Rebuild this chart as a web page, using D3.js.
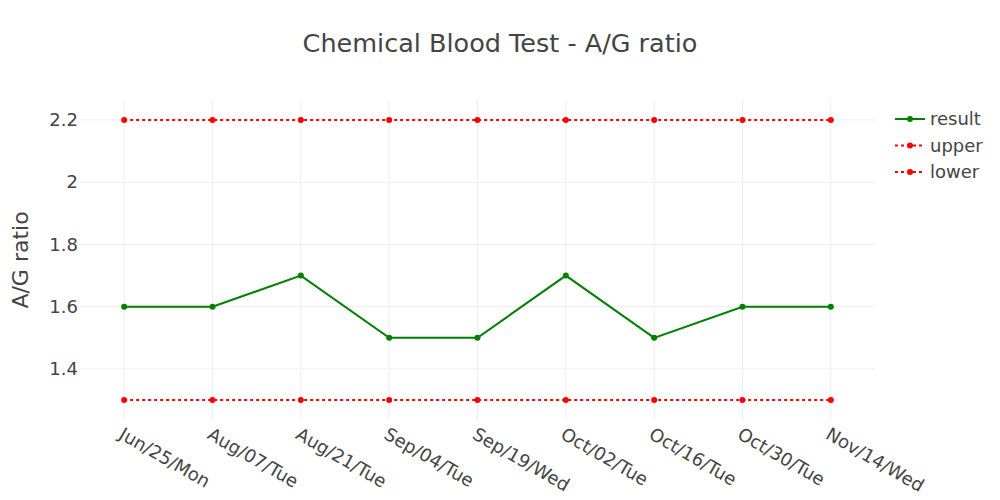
<!DOCTYPE html>
<html>
<head>
<meta charset="utf-8">
<script src="https://cdn.jsdelivr.net/npm/d3@7"></script>
<style>
  body { margin: 0; background: #fff; }
  text { font-family: "DejaVu Sans", Verdana, sans-serif; fill: #444; }
</style>
</head>
<body>
<script>
(function() {

    // Data
    var dates = ['Jun/25/Mon', 'Aug/07/Tue', 'Aug/21/Tue', 'Sep/04/Tue', 'Sep/19/Wed',
                 'Oct/02/Tue', 'Oct/16/Tue', 'Oct/30/Tue', 'Nov/14/Wed'];
    var result = [1.6, 1.6, 1.7, 1.5, 1.5, 1.7, 1.5, 1.6, 1.6];
    var upper = [2.2, 2.2, 2.2, 2.2, 2.2, 2.2, 2.2, 2.2, 2.2];
    var lower = [1.3, 1.3, 1.3, 1.3, 1.3, 1.3, 1.3, 1.3, 1.3];
    var yTicks = [1.4, 1.6, 1.8, 2, 2.2];

    var series = [
        {name: 'result', values: result, color: 'green', dash: null},
        {name: 'upper', values: upper, color: 'red', dash: '3,3'},
        {name: 'lower', values: lower, color: 'red', dash: '3,3'}
    ];

    // Dimensions
    var W = 1000, H = 500;
    var margin = {top: 100, right: 125, bottom: 80, left: 80},
        width = W - margin.left - margin.right,
        height = H - margin.top - margin.bottom;

    var svg = d3.select('body').append('svg')
        .attr('width', W)
        .attr('height', H);

    var g = svg.append('g')
        .attr('transform', 'translate(' + margin.left + ',' + margin.top + ')');

    // Scales
    var x = d3.scalePoint().domain(dates).range([0, width]).padding(0.5);
    var y = d3.scaleLinear().domain([1.236, 2.264]).range([height, 0]);

    // Grid lines
    g.append('g').selectAll('line.vg')
        .data(dates).enter().append('line')
        .attr('x1', function(d) { return x(d); })
        .attr('x2', function(d) { return x(d); })
        .attr('y1', 0).attr('y2', height)
        .attr('stroke', '#eee').attr('stroke-width', 1);

    g.append('g').selectAll('line.hg')
        .data(yTicks).enter().append('line')
        .attr('x1', 0).attr('x2', width)
        .attr('y1', function(d) { return y(d); })
        .attr('y2', function(d) { return y(d); })
        .attr('stroke', '#eee').attr('stroke-width', 1);

    // Y axis
    var yAxis = g.append('g')
        .call(d3.axisLeft(y).tickValues(yTicks).tickSize(0).tickPadding(2)
            .tickFormat(function(d) { return d3.format('')(d); }));
    yAxis.select('.domain').remove();
    yAxis.selectAll('text').style('font-size', '18px').attr('fill', '#444')
        .style('font-family', '"DejaVu Sans", Verdana, sans-serif');

    // X axis
    var xAxis = g.append('g')
        .attr('transform', 'translate(0,' + height + ')')
        .call(d3.axisBottom(x).tickSize(0).tickPadding(0));
    xAxis.select('.domain').remove();
    xAxis.selectAll('text')
        .style('font-size', '18px')
        .style('font-family', '"DejaVu Sans", Verdana, sans-serif')
        .attr('fill', '#444')
        .attr('text-anchor', 'start')
        .attr('dy', null)
        .attr('y', 0)
        .attr('transform', 'translate(0,6) rotate(30)')
        .attr('dominant-baseline', 'hanging');

    // Lines and markers
    var line = d3.line()
        .x(function(d, i) { return x(dates[i]); })
        .y(function(d) { return y(d); });

    series.slice().reverse().forEach(function(s) {
        g.append('path')
            .datum(s.values)
            .attr('fill', 'none')
            .attr('stroke', s.color)
            .attr('stroke-width', 2)
            .attr('stroke-dasharray', s.dash)
            .attr('d', line);
        g.append('g').selectAll('circle')
            .data(s.values).enter().append('circle')
            .attr('cx', function(d, i) { return x(dates[i]); })
            .attr('cy', function(d) { return y(d); })
            .attr('r', 3)
            .attr('fill', s.color);
    });

    // Title
    svg.append('text')
        .attr('x', 500).attr('y', 52)
        .attr('text-anchor', 'middle')
        .style('font-size', '25.5px')
        .text('Chemical Blood Test - A/G ratio');

    // Y axis title
    svg.append('text')
        .attr('transform', 'translate(28,' + (margin.top + height / 2) + ') rotate(-90)')
        .attr('text-anchor', 'middle')
        .style('font-size', '22px')
        .text('A/G ratio');

    // Legend
    var legend = svg.append('g').attr('transform', 'translate(895,119)');
    series.forEach(function(s, i) {
        var row = legend.append('g').attr('transform', 'translate(0,' + (i * 26.5) + ')');
        row.append('line')
            .attr('x1', 0).attr('x2', 30)
            .attr('stroke', s.color).attr('stroke-width', 2)
            .attr('stroke-dasharray', s.dash);
        row.append('circle').attr('cx', 15).attr('r', 3).attr('fill', s.color);
        row.append('text')
            .attr('x', 35).attr('dy', '0.35em')
            .style('font-size', '18px')
            .text(s.name);
    });

})();
</script>
</body>
</html>
